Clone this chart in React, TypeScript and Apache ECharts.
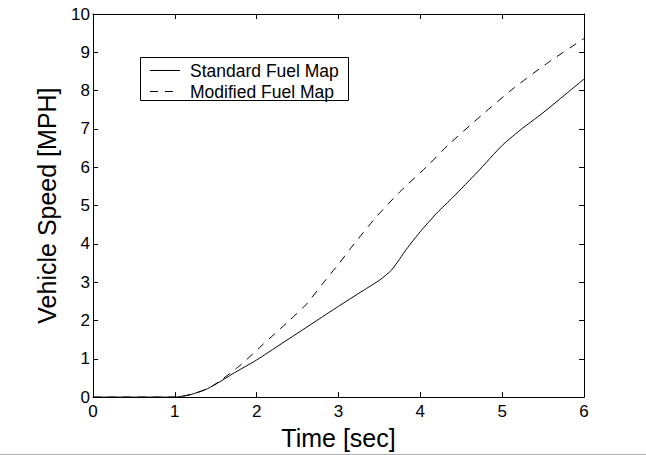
import React, { useEffect, useRef } from "react";
import * as echarts from "echarts";

const xTicks = [0, 1, 2, 3, 4, 5, 6];
const yTicks = [0, 1, 2, 3, 4, 5, 6, 7, 8, 9, 10];

const standardTime = [0, 1, 1.2, 1.4, 1.55, 1.7, 2, 2.3, 2.7, 3, 3.3, 3.5, 3.65, 3.83, 4.0, 4.2, 4.4, 4.7, 5.0, 5.25, 5.45, 5.62, 5.8, 6];
const standardSpeed = [0, 0, 0.07, 0.22, 0.4, 0.6, 0.97, 1.39, 1.95, 2.37, 2.78, 3.05, 3.32, 3.86, 4.32, 4.8, 5.22, 5.88, 6.57, 7.02, 7.34, 7.63, 7.95, 8.3];

const modifiedTime = [0, 1, 1.2, 1.4, 1.55, 1.81, 2.08, 2.4, 2.61, 2.81, 3.0, 3.18, 3.46, 3.75, 4.08, 4.34, 4.75, 5.15, 5.56, 5.95, 6];
const modifiedSpeed = [0, 0, 0.07, 0.22, 0.42, 0.85, 1.38, 2.0, 2.43, 2.97, 3.47, 3.97, 4.7, 5.36, 6.02, 6.58, 7.36, 8.08, 8.73, 9.29, 9.36];

const seriesNames = ["Standard Fuel Map", "Modified Fuel Map"];
const xTitle = "Time [sec]";
const yTitle = "Vehicle Speed [MPH]";

const FONT = "'Liberation Sans', Arial, Helvetica, sans-serif";
const DASH = [8, 7];

const zip = (xs: number[], ys: number[]) => xs.map((x, i) => [x, ys[i]]);

const mkLine = () => ({ show: true, onZero: false, lineStyle: { color: "#000", width: 1 } });
const mkTick = () => ({ show: true, inside: true, length: 5, lineStyle: { color: "#000", width: 1 } });

export default function App() {
  const ref = useRef<HTMLDivElement>(null);
  useEffect(() => {
    if (!ref.current) return;
    const chart = echarts.init(ref.current, undefined, { renderer: "svg" });
    chart.setOption({
      animation: false,
      backgroundColor: "#fff",
      grid: { left: 93, right: 62, top: 14, bottom: 54, containLabel: false },
      xAxis: [
        {
          type: "value",
          min: 0,
          max: 6,
          interval: 1,
          position: "bottom",
          axisLine: mkLine(),
          axisTick: mkTick(),
          splitLine: { show: false },
          axisLabel: { fontSize: 17, fontFamily: FONT, color: "#000", margin: 6, formatter: (v: number) => (xTicks.includes(v) ? String(v) : "") },
          name: xTitle,
          nameLocation: "middle",
          nameGap: 22,
          nameTextStyle: { fontSize: 25, fontFamily: FONT, color: "#000" },
        },
        {
          type: "value",
          min: 0,
          max: 6,
          interval: 1,
          position: "top",
          axisLine: mkLine(),
          axisTick: mkTick(),
          splitLine: { show: false },
          axisLabel: { show: false },
        },
      ],
      yAxis: [
        {
          type: "value",
          min: 0,
          max: 10,
          interval: 1,
          position: "left",
          axisLine: mkLine(),
          axisTick: mkTick(),
          splitLine: { show: false },
          axisLabel: { fontSize: 17, fontFamily: FONT, color: "#000", margin: 3, formatter: (v: number) => (yTicks.includes(v) ? String(v) : "") },
          name: yTitle,
          nameLocation: "middle",
          nameGap: 34,
          nameTextStyle: { fontSize: 25, fontFamily: FONT, color: "#000" },
        },
        {
          type: "value",
          min: 0,
          max: 10,
          interval: 1,
          position: "right",
          axisLine: mkLine(),
          axisTick: mkTick(),
          splitLine: { show: false },
          axisLabel: { show: false },
        },
      ],
      series: [
        {
          name: seriesNames[0],
          type: "line",
          data: zip(standardTime, standardSpeed),
          symbol: "none",
          smooth: 0.2,
          lineStyle: { color: "#000", width: 1, type: "solid" },
        },
        {
          name: seriesNames[1],
          type: "line",
          data: zip(modifiedTime, modifiedSpeed),
          symbol: "none",
          smooth: 0.2,
          lineStyle: { color: "#000", width: 1, type: DASH },
        },
      ],
      graphic: [
        {
          type: "group",
          left: 140,
          top: 57,
          children: [
            {
              type: "rect",
              shape: { x: 0.5, y: 0.5, width: 208, height: 43 },
              style: { fill: "#fff", stroke: "#000", lineWidth: 1 },
            },
            {
              type: "line",
              shape: { x1: 10, y1: 13.5, x2: 40, y2: 13.5 },
              style: { stroke: "#000", lineWidth: 1 },
            },
            {
              type: "line",
              shape: { x1: 10, y1: 34.5, x2: 37, y2: 34.5 },
              style: { stroke: "#000", lineWidth: 1, lineDash: DASH },
            },
            {
              type: "text",
              x: 50,
              y: 14,
              style: { text: seriesNames[0], fontSize: 17.5, fontFamily: FONT, fill: "#000", verticalAlign: "middle" },
            },
            {
              type: "text",
              x: 50,
              y: 35,
              style: { text: seriesNames[1], fontSize: 17.5, fontFamily: FONT, fill: "#000", verticalAlign: "middle" },
            },
          ],
        },
        {
          type: "line",
          shape: { x1: 0, y1: 454.5, x2: 646, y2: 454.5 },
          style: { stroke: "#b0b0b0", lineWidth: 1 },
          silent: true,
        },
      ],
    });
    return () => chart.dispose();
  }, []);
  return (
    <div
      ref={ref}
      style={{ position: "fixed", left: 0, top: 0, width: 646, height: 455, background: "#fff" }}
    />
  );
}
